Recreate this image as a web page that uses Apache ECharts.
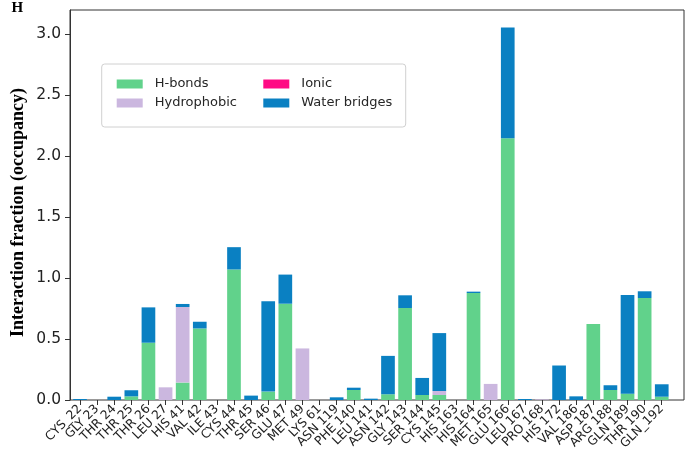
<!DOCTYPE html>
<html>
<head>
<meta charset="utf-8">
<script src="https://cdn.jsdelivr.net/npm/echarts@6/dist/echarts.min.js"></script>
<style>html,body{margin:0;padding:0;background:#fff}#c{width:688px;height:458px}</style>
</head>
<body>
<div id="c"></div>
<script>
const categories = ['CYS_22','GLY 23','THR 24','THR 25','THR 26','LEU 27','HIS 41','VAL 42','ILE 43','CYS 44','THR 45','SER 46','GLU 47','MET 49','LYS 61','ASN 119','PHE 140','LEU 141','ASN 142','GLY 143','SER 144','CYS 145','HIS 163','HIS 164','MET 165','GLU 166','LEU 167','PRO 168','HIS 172','VAL 186','ASP 187','ARG 188','GLN 189','THR 190','GLN_192'];
const hbonds      = [0,0,0,0.03,0.47,0,0.143,0.587,0,1.071,0,0.069,0.79,0,0,0,0.082,0,0.047,0.755,0.041,0.041,0,0.878,0,2.147,0,0,0,0,0.623,0.082,0.052,0.837,0.027];
const hydrophobic = [0,0,0,0,0,0.104,0.62,0,0,0,0,0,0,0.423,0,0,0,0,0,0,0,0.033,0,0,0.132,0,0,0.005,0,0,0,0,0,0,0];
const ionic       = [0,0,0,0,0,0,0,0,0,0,0,0,0,0,0,0,0,0,0,0,0,0,0,0,0,0,0,0,0,0,0,0,0,0,0];
const water       = [0.008,0,0.027,0.05,0.29,0,0.025,0.055,0,0.183,0.036,0.741,0.239,0,0,0.022,0.019,0.011,0.315,0.104,0.14,0.475,0,0.011,0,0.91,0.008,0,0.283,0.03,0,0.039,0.81,0.055,0.102];
const yTicks = [0,0.5,1,1.5,2,2.5,3];

const colors = {hb:'#61d28b', hp:'#cbb7df', io:'#ff0a84', wb:'#0a80c2'};
function ser(name, arr, color){
  return {name, type:'bar', stack:'s', barWidth:'80%', xAxisIndex:0, yAxisIndex:0, itemStyle:{color}, data: arr};
}
const chart = echarts.init(document.getElementById('c'));
chart.setOption({
  animation:false,
  backgroundColor:'#fff',
  grid:[
    {left:71.45,right:17.7,top:10,bottom:58},
    {left:70,right:4,top:10,bottom:58,show:true,borderColor:'#333',borderWidth:1,backgroundColor:'transparent'}
  ],
  xAxis:[
    {type:'category',gridIndex:0,data:categories,boundaryGap:true,
      axisLine:{show:false},
      axisTick:{show:true,alignWithLabel:true,length:5,lineStyle:{color:'#333'}},
      axisLabel:{interval:0,rotate:45,margin:7,fontFamily:'DejaVu Sans',fontSize:12.3,color:'#222'},
      splitLine:{show:false}},
    {type:'value',gridIndex:1,show:false,min:0,max:1}
  ],
  yAxis:[
    {type:'value',gridIndex:0,min:0,max:3.2,show:false},
    {type:'value',gridIndex:1,min:0,max:3.2,
      axisLine:{show:true,lineStyle:{color:'#333',width:1}},
      axisTick:{show:true,length:5,lineStyle:{color:'#333'},customValues:yTicks},
      axisLabel:{customValues:yTicks,margin:9,fontFamily:'DejaVu Sans',fontSize:15.5,color:'#222',
        formatter:(v)=>v.toFixed(1)},
      splitLine:{show:false}}
  ],
  legend:[
    {data:['H-bonds','Hydrophobic'],orient:'vertical',left:116.7,top:77.5,padding:0,itemWidth:26,itemHeight:9,itemGap:6,icon:'rect',
      textStyle:{fontFamily:'DejaVu Sans',fontSize:13,lineHeight:13,color:'#262626',padding:[0,0,0,7]}},
    {data:['Ionic','Water bridges'],orient:'vertical',left:263.3,top:77.5,padding:0,itemWidth:26,itemHeight:9,itemGap:6,icon:'rect',
      textStyle:{fontFamily:'DejaVu Sans',fontSize:13,lineHeight:13,color:'#262626',padding:[0,0,0,7]}}
  ],
  graphic:[
    {type:'rect',z:3,shape:{x:101.7,y:64,width:304,height:63,r:3},style:{fill:'rgba(255,255,255,0.8)',stroke:'#d0d0d0',lineWidth:1}},
    {type:'text',x:11.5,y:1,style:{text:'H',fontFamily:'Liberation Serif',fontWeight:'bold',fontSize:15,fill:'#000'}},
    {type:'text',x:18,y:212.5,rotation:Math.PI/2,style:{text:'Interaction fraction (occupancy)',fontFamily:'Liberation Serif',fontWeight:'bold',fontSize:18,fill:'#000',align:'center',verticalAlign:'middle'}}
  ],
  series:[
    ser('H-bonds',hbonds,colors.hb),
    ser('Hydrophobic',hydrophobic,colors.hp),
    ser('Ionic',ionic,colors.io),
    ser('Water bridges',water,colors.wb)
  ]
});
</script>
</body>
</html>
